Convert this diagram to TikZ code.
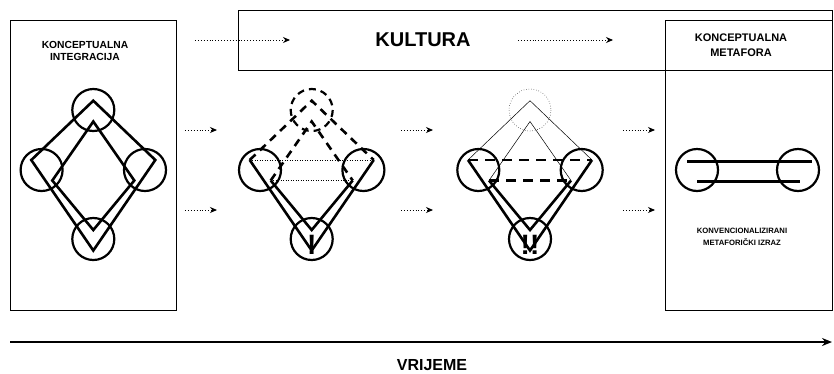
\documentclass[tikz,border=0pt]{standalone}
\usepackage{fontspec}
\setmainfont{Liberation Sans}
\usetikzlibrary{arrows.meta}

\tikzset{
  frame/.style={draw, line width=1pt},
  space/.style={line width=2.2pt},
  link/.style={line width=2.6pt, line join=miter},
  thinlink/.style={line width=0.5pt},
  flow/.style={dotted, line width=0.9pt, -{Stealth[length=7pt,width=6pt]}},
  label/.style={font=\bfseries\fontsize{10.3}{12.5}\selectfont, align=center},
  shout/.style={font=\bfseries\fontsize{28}{30}\selectfont, inner sep=0pt},
}

\begin{document}
\begin{tikzpicture}[x=1pt, y=-1pt]
\useasboundingbox (0,0) rectangle (834,373);

    % Frames
    \draw[frame] (10,20) rectangle (176,310);
    \draw[frame] (238,10) rectangle (832,70);
    \draw[frame] (665,20) rectangle (832,310);

    % Labels
    \node[label] (integ) at (85,51) {KONCEPTUALNA\\INTEGRACIJA};
    \node[font=\bfseries\fontsize{20}{24}\selectfont] (kultura) at (423,40) {KULTURA};
    \node[label, font=\bfseries\fontsize{11}{15}\selectfont] (metafora) at (741,45.5) {KONCEPTUALNA\\METAFORA};
    \node[label, font=\bfseries\fontsize{7.7}{12}\selectfont] (izraz) at (742,237) {KONVENCIONALIZIRANI\\METAFORIČKI IZRAZ};
    \node[font=\bfseries\fontsize{16}{19}\selectfont] (vrijeme) at (432,365) {VRIJEME};

    % Dotted arrows
    \draw[flow] (195,40) -- (290,40);
    \draw[flow] (518,40) -- (613,40);
    \foreach \x in {185,401,623}
      \foreach \y in {130,210}
        \draw[flow] (\x,\y) -- ++(32,0);

    % Time axis
    \draw[line width=2.6pt, -{Stealth[length=10pt,width=8pt]}] (10,342) -- (832,342);

    % Integration network
    \begin{scope}[xshift=93.3pt]
      \draw[link] (0,100.7) -- (-62,160) -- (0,250.5) -- (62,160) -- cycle;
      \draw[link] (0,121.5) -- (-41,180.5) -- (0,230) -- (41,180.5) -- cycle;
      \foreach \p in {(0,110),(-51.7,170),(51.7,170),(0,239)}
        \draw[space] \p circle (21);
    \end{scope}

    % Stage I
    \begin{scope}[xshift=311.7pt]
      \draw[link, dash pattern=on 8pt off 6pt] (-62,160) -- (0,100.7) -- (62,160);
      \draw[link, dash pattern=on 8pt off 6pt] (-41,180.5) -- (0,121.5) -- (41,180.5);
      \draw[link] (-62,160) -- (0,250.5) -- (62,160);
      \draw[link] (-41,180.5) -- (0,230) -- (41,180.5);
      \draw[thinlink, dotted] (-62,160) -- (62,160);
      \draw[thinlink, dotted] (-41,180.5) -- (41,180.5);
      \draw[space, dash pattern=on 7pt off 5pt] (0,110) circle (21);
      \foreach \p in {(-51.7,170),(51.7,170),(0,239)}
        \draw[space] \p circle (21);
      \node[shout] (one) at (0,245) {!};
    \end{scope}

    % Stage II
    \begin{scope}[xshift=530pt]
      \draw[thinlink] (-62,160) -- (0,100.7) -- (62,160);
      \draw[thinlink] (-41,180.5) -- (0,121.5) -- (41,180.5);
      \draw[link] (-62,160) -- (0,250.5) -- (62,160);
      \draw[link] (-41,180.5) -- (0,230) -- (41,180.5);
      \draw[link, dash pattern=on 10pt off 7pt] (-62,160) -- (62,160);
      \draw[link, dash pattern=on 10pt off 7pt] (-41,180.5) -- (41,180.5);
      \draw[thinlink, dotted] (0,110) circle (21);
      \foreach \p in {(-51.7,170),(51.7,170),(0,239)}
        \draw[space] \p circle (21);
      \node[shout] (two) at (0,245) {!!};
    \end{scope}

    % Conventional metaphor
    \draw[link] (687,161.5) -- (812,161.5);
    \draw[link] (697,181.7) -- (800,181.7);
    \draw[space] (697,170) circle (21);
    \draw[space] (798,170) circle (21);

\end{tikzpicture}
\end{document}
